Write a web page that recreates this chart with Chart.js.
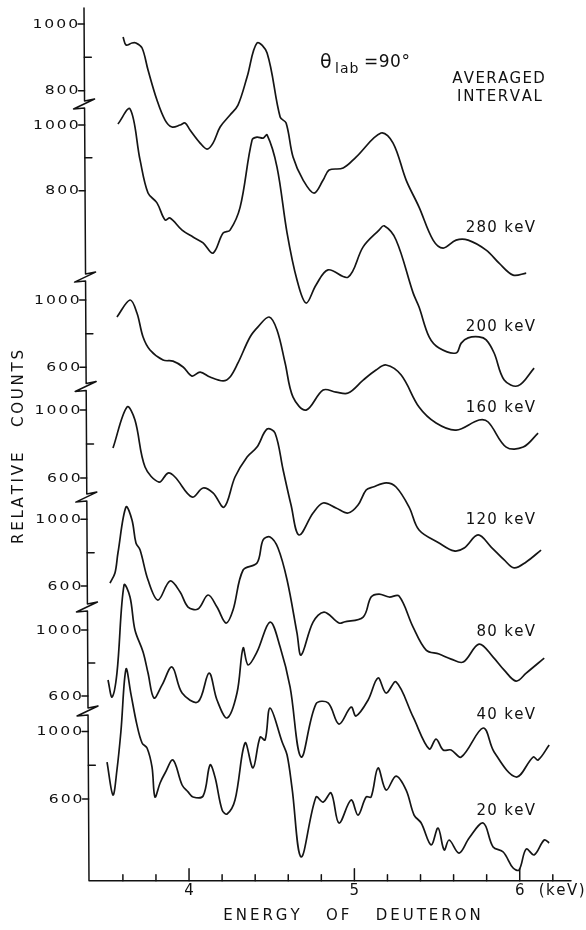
<!DOCTYPE html>
<html>
<head>
<meta charset="utf-8">
<script src="https://cdn.jsdelivr.net/npm/chart.js@4.4.1/dist/chart.umd.min.js"></script>
<style>
  html, body { margin: 0; padding: 0; background: #fff; }
  #wrap { width: 586px; height: 930px; }
</style>
</head>
<body>
<div id="wrap"><canvas id="spectra" width="586" height="930"></canvas></div>
<script>
// ====================== Data ======================
// energy of deuteron (keV) / relative counts, one pair per averaged interval
const e280 = [3.601, 3.619, 3.655, 3.679, 3.716, 3.752, 3.806, 3.855, 3.897, 3.946, 3.976, 4.006, 4.067, 4.109, 4.145, 4.188, 4.248, 4.296, 4.351, 4.411, 4.472, 4.551, 4.587, 4.629, 4.690, 4.756, 4.811, 4.847, 4.932, 5.010, 5.161, 5.234, 5.313, 5.391, 5.476, 5.537, 5.615, 5.688, 5.797, 5.875, 5.960, 6.039];
const c280 = [961, 937, 943, 943, 928, 862, 772, 712, 691, 697, 703, 682, 643, 625, 643, 691, 727, 757, 841, 943, 913, 721, 703, 601, 532, 493, 532, 562, 568, 601, 673, 643, 532, 451, 352, 328, 352, 352, 322, 283, 247, 253];

const e200 = [3.570, 3.643, 3.704, 3.752, 3.806, 3.855, 3.885, 3.958, 4.024, 4.085, 4.145, 4.206, 4.248, 4.309, 4.381, 4.411, 4.448, 4.472, 4.532, 4.593, 4.653, 4.708, 4.768, 4.841, 4.962, 5.053, 5.149, 5.180, 5.252, 5.355, 5.391, 5.452, 5.512, 5.615, 5.646, 5.688, 5.754, 5.797, 5.845, 5.906, 5.990, 6.087];
const c200 = [1003, 1049, 893, 793, 763, 711, 717, 680, 659, 641, 610, 671, 680, 750, 954, 963, 960, 970, 872, 671, 528, 458, 513, 559, 537, 629, 680, 693, 650, 489, 446, 355, 321, 306, 336, 352, 355, 346, 306, 224, 206, 260];

const e160 = [3.564, 3.643, 3.685, 3.722, 3.764, 3.843, 3.903, 3.964, 4.018, 4.067, 4.127, 4.206, 4.248, 4.296, 4.369, 4.417, 4.484, 4.532, 4.581, 4.629, 4.708, 4.811, 4.889, 4.962, 5.053, 5.131, 5.192, 5.283, 5.391, 5.494, 5.615, 5.754, 5.809, 5.918, 6.021, 6.111];
const c160 = [899, 1000, 923, 780, 703, 643, 637, 602, 548, 572, 542, 519, 542, 626, 780, 840, 899, 822, 626, 423, 346, 465, 453, 447, 524, 584, 614, 554, 364, 269, 227, 287, 275, 126, 126, 209];

const e120 = [3.540, 3.625, 3.673, 3.734, 3.819, 3.873, 3.915, 4.018, 4.085, 4.145, 4.212, 4.278, 4.351, 4.411, 4.472, 4.520, 4.569, 4.617, 4.665, 4.750, 4.811, 4.889, 4.962, 5.022, 5.071, 5.113, 5.192, 5.252, 5.331, 5.391, 5.512, 5.603, 5.664, 5.748, 5.827, 5.906, 5.966, 6.039, 6.129];
const c120 = [776, 1018, 941, 665, 576, 629, 606, 488, 541, 512, 429, 606, 724, 782, 888, 865, 647, 441, 265, 394, 453, 424, 394, 441, 529, 547, 571, 547, 429, 294, 218, 171, 188, 265, 194, 118, 71, 106, 176];

const e80 = [3.522, 3.552, 3.570, 3.619, 3.655, 3.679, 3.704, 3.752, 3.812, 3.885, 3.946, 3.994, 4.054, 4.115, 4.169, 4.224, 4.266, 4.327, 4.411, 4.448, 4.490, 4.538, 4.593, 4.653, 4.678, 4.750, 4.817, 4.907, 4.938, 5.053, 5.101, 5.149, 5.210, 5.270, 5.355, 5.434, 5.512, 5.585, 5.658, 5.754, 5.839, 5.906, 5.978, 6.039, 6.148];
const c80 = [618, 678, 798, 1074, 996, 858, 816, 636, 516, 630, 564, 474, 462, 546, 474, 378, 456, 696, 738, 876, 894, 828, 636, 318, 186, 384, 444, 378, 384, 414, 534, 552, 534, 540, 354, 216, 192, 162, 144, 252, 174, 96, 30, 78, 168];

const e40 = [3.510, 3.534, 3.564, 3.607, 3.643, 3.673, 3.722, 3.752, 3.788, 3.837, 3.897, 3.958, 4.054, 4.121, 4.169, 4.230, 4.290, 4.327, 4.357, 4.411, 4.490, 4.551, 4.611, 4.678, 4.768, 4.841, 4.907, 4.980, 5.010, 5.083, 5.143, 5.192, 5.252, 5.355, 5.452, 5.494, 5.537, 5.585, 5.646, 5.779, 5.845, 5.978, 6.081, 6.111, 6.178];
const c40 = [697, 594, 739, 1273, 1200, 1000, 867, 739, 588, 667, 776, 618, 564, 739, 576, 467, 618, 891, 788, 867, 1048, 897, 655, 230, 552, 558, 430, 533, 479, 576, 709, 618, 685, 473, 279, 339, 273, 273, 230, 406, 261, 109, 230, 212, 303];

const e20 = [3.504, 3.540, 3.564, 3.588, 3.619, 3.649, 3.685, 3.716, 3.746, 3.776, 3.794, 3.825, 3.855, 3.903, 3.958, 3.994, 4.024, 4.085, 4.127, 4.157, 4.200, 4.230, 4.278, 4.339, 4.387, 4.430, 4.460, 4.490, 4.563, 4.593, 4.623, 4.678, 4.768, 4.811, 4.859, 4.907, 4.980, 5.022, 5.071, 5.101, 5.143, 5.192, 5.252, 5.313, 5.361, 5.404, 5.464, 5.506, 5.543, 5.573, 5.633, 5.694, 5.779, 5.839, 5.900, 5.960, 5.996, 6.039, 6.087, 6.148, 6.178];
const c20 = [819, 624, 772, 1000, 1370, 1220, 1039, 932, 902, 790, 612, 695, 754, 831, 683, 642, 612, 618, 802, 730, 535, 511, 594, 932, 784, 967, 950, 1139, 938, 861, 665, 257, 612, 582, 636, 458, 594, 505, 612, 612, 784, 653, 736, 653, 505, 458, 328, 428, 298, 357, 280, 369, 458, 316, 286, 191, 180, 304, 269, 357, 340];

const curveNames = ["280 keV", "200 keV", "160 keV", "120 keV", "80 keV", "40 keV", "20 keV"];
const energies = [e280, e200, e160, e120, e80, e40, e20];
const counts = [c280, c200, c160, c120, c80, c40, c20];

// left tick labels of each panel, and the unlabelled middle tick
const countTicks = [[1000, 800], [1000, 800], [1000, 600], [1000, 600], [1000, 600], [1000, 600], [1000, 600]];
const midTicks = [900, 900, 800, 800, 800, 800, 800];
const breakAt = [757, 534, 480, 482, 468, 503]; // axis break, in counts of the panel above
const energyTicks = [4, 5, 6];

// ====================== Layout ======================
// where the 1000 tick of each panel sits (px from bottom axis) and px per count
const panelBase = [856.7, 755.7, 580.7, 470.7, 361.4, 250.7, 149.2];
const panelScale = [0.3335, 0.3285, 0.1683, 0.17, 0.1668, 0.165, 0.1688];
const toY = (c, i) => panelBase[i] + (c - 1000) * panelScale[i];

const FONT = '"DejaVu Sans", sans-serif';

function spaced(ctx, str, x, y, gap, align) {
  const chars = [...str];
  const widths = chars.map(ch => ctx.measureText(ch).width);
  const total = widths.reduce((a, b) => a + b, 0) + gap * (chars.length - 1);
  let cx = align === "right" ? x - total : align === "center" ? x - total / 2 : x;
  ctx.textAlign = "left";
  chars.forEach((ch, i) => { ctx.fillText(ch, cx, y); cx += widths[i] + gap; });
}

// same, but with wide letters (the round stencil digits of the axis)
function wide(ctx, str, x, y, gap, align, sx) {
  ctx.save();
  ctx.translate(x, y);
  ctx.scale(sx, 1);
  spaced(ctx, str, 0, 0, gap / sx, align);
  ctx.restore();
}

// ====================== Axes, breaks and labels ======================
const frame = {
  id: "frame",
  beforeDraw(chart) {
    const ctx = chart.ctx;
    ctx.save();
    ctx.fillStyle = "#fff";
    ctx.fillRect(0, 0, chart.width, chart.height);
    ctx.restore();
  },
  afterDraw(chart) {
    const { ctx, chartArea, scales: { x, y } } = chart;
    const top = chartArea.top, bottom = chartArea.bottom;
    // the drawn axis leans slightly
    const ax = py => 84 + 5 * (py - top) / (bottom - top);

    ctx.save();
    ctx.strokeStyle = "#111";
    ctx.fillStyle = "#111";
    ctx.lineWidth = 1.5;
    ctx.lineCap = "round";
    ctx.lineJoin = "round";

    // vertical axis with breaks
    const breaks = breakAt.map((c, i) => y.getPixelForValue(toY(c, i)));
    ctx.beginPath();
    ctx.moveTo(ax(top), top);
    breaks.forEach(b => {
      ctx.lineTo(ax(b - 4), b - 4);
      ctx.lineTo(ax(b) + 10, b - 6);
      ctx.lineTo(ax(b) - 11, b + 4);
      ctx.lineTo(ax(b + 3), b + 3);
    });
    ctx.lineTo(ax(bottom), bottom);
    ctx.lineTo(chartArea.right, bottom);
    ctx.stroke();

    // count ticks
    ctx.font = "12px " + FONT;
    ctx.textBaseline = "middle";
    countTicks.forEach((vals, i) => {
      vals.forEach(v => {
        const py = y.getPixelForValue(toY(v, i));
        ctx.beginPath();
        ctx.moveTo(ax(py) - 6, py);
        ctx.lineTo(ax(py), py);
        ctx.stroke();
        wide(ctx, String(v), ax(py) - 6, py + 0.5, 2, "right", 1.3);
      });
      const pm = y.getPixelForValue(toY(midTicks[i], i));
      ctx.beginPath();
      ctx.moveTo(ax(pm), pm);
      ctx.lineTo(ax(pm) + 7, pm);
      ctx.stroke();
    });

    // energy ticks, every 0.2 keV, pointing up
    for (let k = 18; k <= 31; k++) {
      const px = x.getPixelForValue(k / 5);
      const major = k % 5 === 0;
      ctx.beginPath();
      ctx.moveTo(px, bottom);
      ctx.lineTo(px, bottom - (major ? 12 : 6));
      ctx.stroke();
    }
    ctx.font = "15px " + FONT;
    energyTicks.forEach(v => {
      spaced(ctx, String(v), x.getPixelForValue(v), bottom + 10, 0, "center");
    });
    spaced(ctx, "(keV)", x.getPixelForValue(6) + 19, bottom + 10, 1.5, "left");

    // axis titles
    spaced(ctx, "ENERGY   OF   DEUTERON", 352, 916, 3, "center");
    ctx.save();
    ctx.translate(19.5, 447);
    ctx.rotate(-Math.PI / 2);
    spaced(ctx, "RELATIVE   COUNTS", 0, 0, 2.8, "center");
    ctx.restore();

    // curve labels, right aligned above each tail
    const labelY = [228, 327, 408, 520, 632, 715, 811];
    curveNames.forEach((name, i) => spaced(ctx, name, 535, labelY[i], 1.3, "right"));
    spaced(ctx, "AVERAGED", 498.5, 79, 1.3, "center");
    spaced(ctx, "INTERVAL", 499.5, 97, 1.6, "center");

    // theta_lab = 90 deg
    ctx.font = "19px " + FONT;
    spaced(ctx, "\u03b8", 320, 63, 0, "left");
    ctx.font = "14px " + FONT;
    spaced(ctx, "lab", 335, 69, 1, "left");
    ctx.font = "17px " + FONT;
    spaced(ctx, "=90\u00b0", 364, 63, 0.5, "left");

    ctx.restore();
  }
};

// ====================== Chart ======================
const datasets = energies.map((e, i) => ({
  label: curveNames[i],
  data: e.map((v, j) => ({ x: v, y: toY(counts[i][j], i) })),
  borderColor: "#151515",
  borderWidth: 1.7,
  pointRadius: 0,
  tension: 0.35,
  fill: false,
  clip: false
}));

new Chart(document.getElementById("spectra"), {
  type: "line",
  data: { datasets: datasets },
  options: {
    responsive: false,
    animation: false,
    devicePixelRatio: 1,
    events: [],
    layout: { padding: { left: 89, right: 15, top: 8, bottom: 49.3 } },
    scales: {
      x: { type: "linear", min: 3.395, max: 6.31, display: false },
      y: { type: "linear", min: 0, max: 872.7, display: false }
    },
    plugins: { legend: { display: false }, tooltip: { enabled: false } }
  },
  plugins: [frame]
});
</script>
</body>
</html>
